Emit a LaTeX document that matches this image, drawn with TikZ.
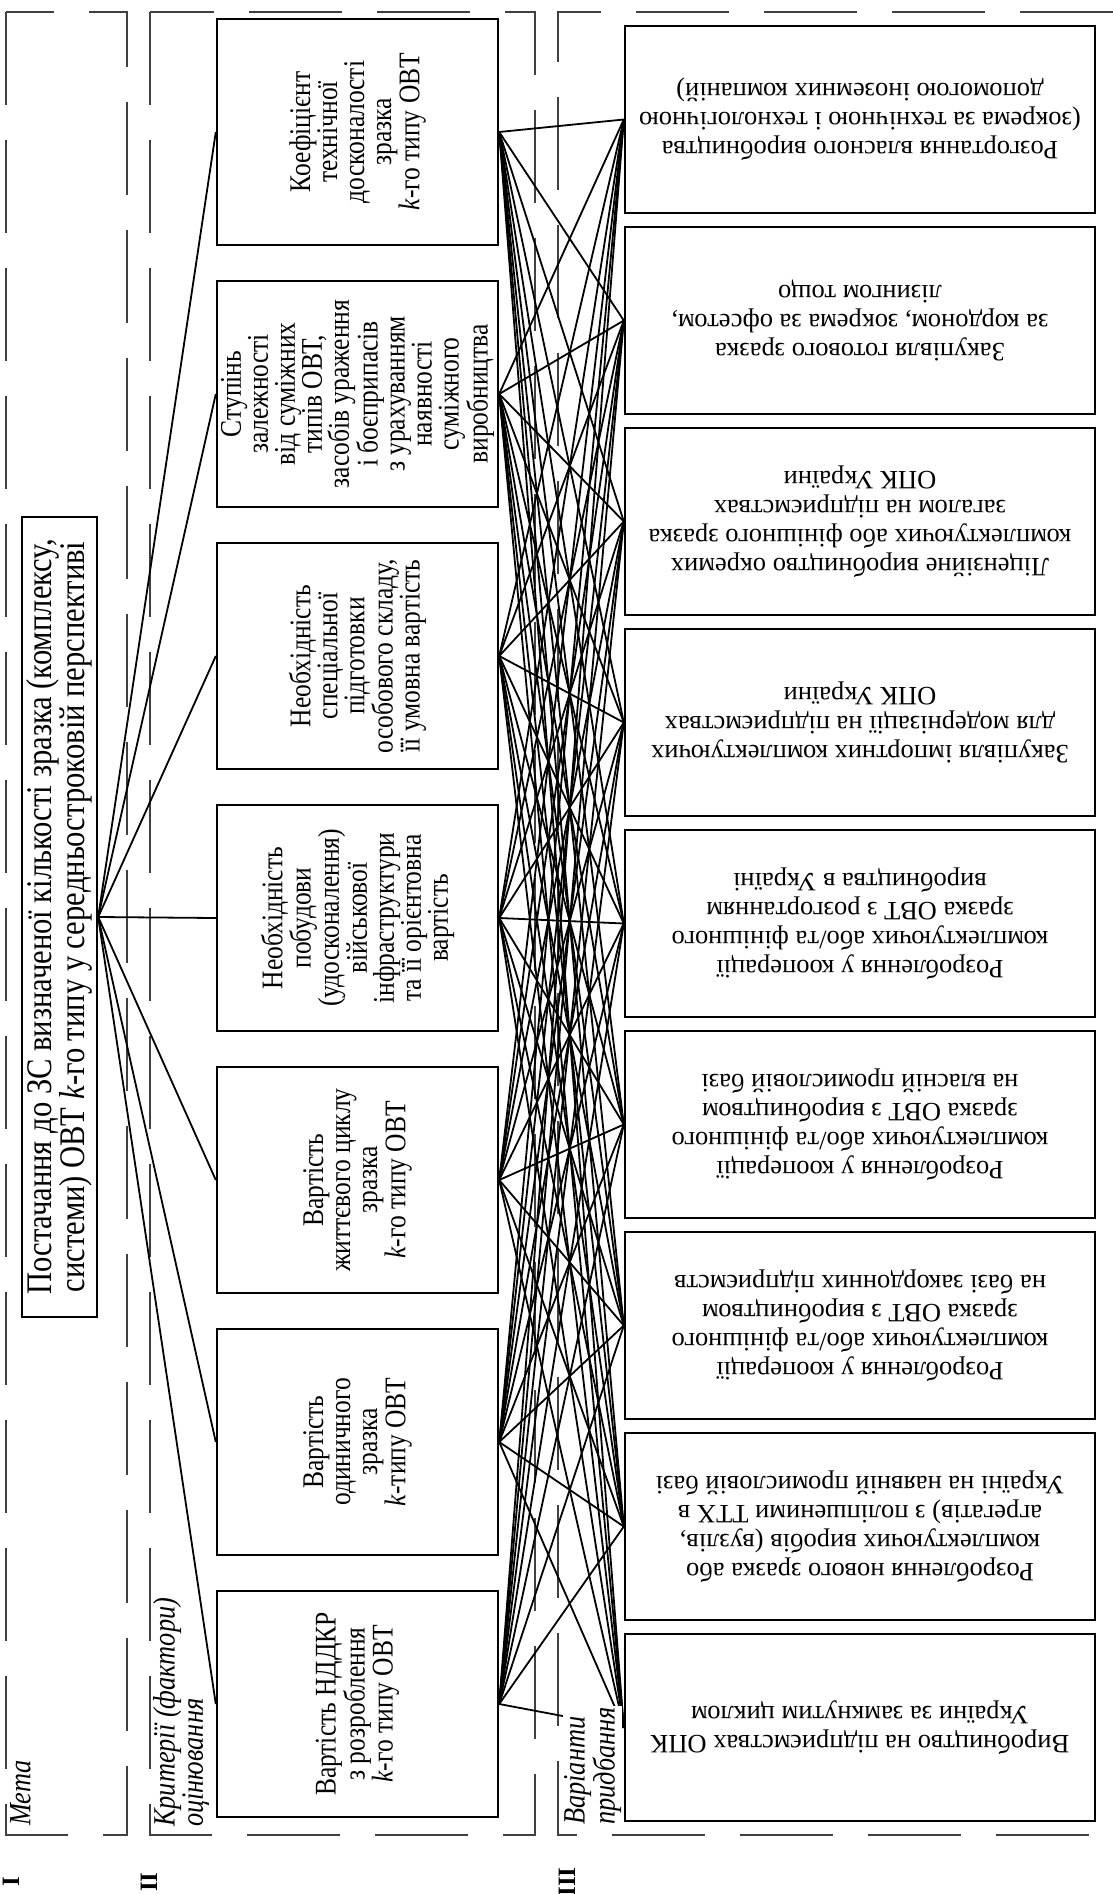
\documentclass[tikz,border=0pt]{standalone}
\usepackage{fontspec}
\setmainfont{Liberation Serif}
\newfontfamily\narrowfont[FakeStretch=0.85]{Liberation Serif}
\usetikzlibrary{positioning}

\tikzset{
	frame/.style={draw=black!75, line width=1.5pt, dash pattern=on 93pt off 35pt},
	goalbox/.style={draw, line width=2.4pt, rotate=90, minimum width=800pt, minimum height=75pt, inner sep=0pt, align=center, font={\narrowfont\fontsize{36}{30}\selectfont}},
	critbox/.style={draw, line width=2.4pt, rotate=90, minimum width=226pt, minimum height=281pt, inner sep=0pt, align=center, font={\narrowfont\fontsize{30}{27}\selectfont}},
	altbox/.style={draw, line width=2.4pt, rotate=180, minimum width=470pt, minimum height=187pt, inner sep=0pt, align=center, font={\fontsize{26.5}{29}\selectfont}},
	link/.style={line width=1.8pt},
	part/.style={rotate=90, anchor=north west, align=left, inner sep=1pt, font={\narrowfont\itshape\fontsize{31}{26}\selectfont}},
	partno/.style={rotate=90, inner sep=0pt, font={\bfseries\fontsize{25}{30}\selectfont}}
}

\begin{document}
\begin{tikzpicture}[x=1pt, y=-1pt]

	\useasboundingbox (0, 0) rectangle (1113, 1894);

	% frames I, II, III
	\draw [frame] (6, 12) rectangle (127, 1835);
	\draw [frame] (150, 12) rectangle (535, 1835);
	\draw [frame] (1113, 12) -- (558, 12) -- (558, 1835) -- (1113, 1835);

	\node [goalbox] (goal) at (59.5, 917) {Постачання до ЗС визначеної кількості зразка (комплексу,\\системи) ОВТ \textit{k}-го типу у середньостроковій перспективі};

	\node [critbox] (crit1) at (357.5, 132) {Коефіцієнт\\технічної\\досконалості\\зразка\\\textit{k}-го типу ОВТ};
	\node [critbox] (crit2) at (357.5, 394) {Ступінь\\залежності\\від суміжних\\типів ОВТ,\\засобів ураження\\і боєприпасів\\з урахуванням\\наявності\\суміжного\\виробництва};
	\node [critbox] (crit3) at (357.5, 656) {Необхідність\\спеціальної\\підготовки\\особового складу,\\її умовна вартість};
	\node [critbox] (crit4) at (357.5, 918) {Необхідність\\побудови\\(удосконалення)\\військової\\інфраструктури\\та її орієнтовна\\вартість};
	\node [critbox] (crit5) at (357.5, 1180) {Вартість\\життєвого циклу\\зразка\\\textit{k}-го типу ОВТ};
	\node [critbox] (crit6) at (357.5, 1442) {Вартість\\одиничного\\зразка\\\textit{k}-типу ОВТ};
	\node [critbox] (crit7) at (357.5, 1704) {Вартість НДДКР\\з розроблення\\\textit{k}-го типу ОВТ};

	\node [altbox] (alt1) at (860, 119.5) {Розгортання власного виробництва\\(зокрема за технічною і технологічною\\допомогою іноземних компаній)};
	\node [altbox] (alt2) at (860, 320.5) {Закупівля готового зразка\\за кордоном, зокрема за офсетом,\\лізингом тощо};
	\node [altbox] (alt3) at (860, 521.5) {Ліцензійне виробництво окремих\\комплектуючих або фінішного зразка\\загалом на підприємствах\\ОПК України};
	\node [altbox] (alt4) at (860, 722.5) {Закупівля імпортних комплектуючих\\для модернізації на підприємствах\\ОПК України};
	\node [altbox] (alt5) at (860, 923.5) {Розроблення у кооперації\\комплектуючих або/та фінішного\\зразка ОВТ з розгортанням\\виробництва в Україні};
	\node [altbox] (alt6) at (860, 1124.5) {Розроблення у кооперації\\комплектуючих або/та фінішного\\зразка ОВТ з виробництвом\\на власній промисловій базі};
	\node [altbox] (alt7) at (860, 1325.5) {Розроблення у кооперації\\комплектуючих або/та фінішного\\зразка ОВТ з виробництвом\\на базі закордонних підприємств};
	\node [altbox] (alt8) at (860, 1526.5) {Розроблення нового зразка або\\комплектуючих виробів (вузлів,\\агрегатів) з поліпшеними ТТХ в\\Україні на наявній промисловій базі};
	\node [altbox] (alt9) at (860, 1727.5) {Виробництво на підприємствах ОПК\\України за замкнутим циклом};

	% goal to criteria
	\draw [link] (goal.south) -- (crit1.north);
	\draw [link] (goal.south) -- (crit2.north);
	\draw [link] (goal.south) -- (crit3.north);
	\draw [link] (goal.south) -- (crit4.north);
	\draw [link] (goal.south) -- (crit5.north);
	\draw [link] (goal.south) -- (crit6.north);
	\draw [link] (goal.south) -- (crit7.north);

	% criteria to alternatives
	\foreach \c in {1,...,7}
		\foreach \a in {1,...,9}
			\draw [link] (crit\c.south) -- (alt\a.east);

	\node [part] (meta) at (9, 1827) {Мета};
	\node [part] (kryt) at (152, 1828) {Критерії (фактори)\\оцінювання};
	\node [part, fill=white] (var) at (563, 1826) {Варіанти\\придбання};

	\node [partno] (n1) at (11, 1882) {I};
	\node [partno] (n2) at (149, 1882) {II};
	\node [partno] (n3) at (567, 1882) {III};

\end{tikzpicture}
\end{document}
